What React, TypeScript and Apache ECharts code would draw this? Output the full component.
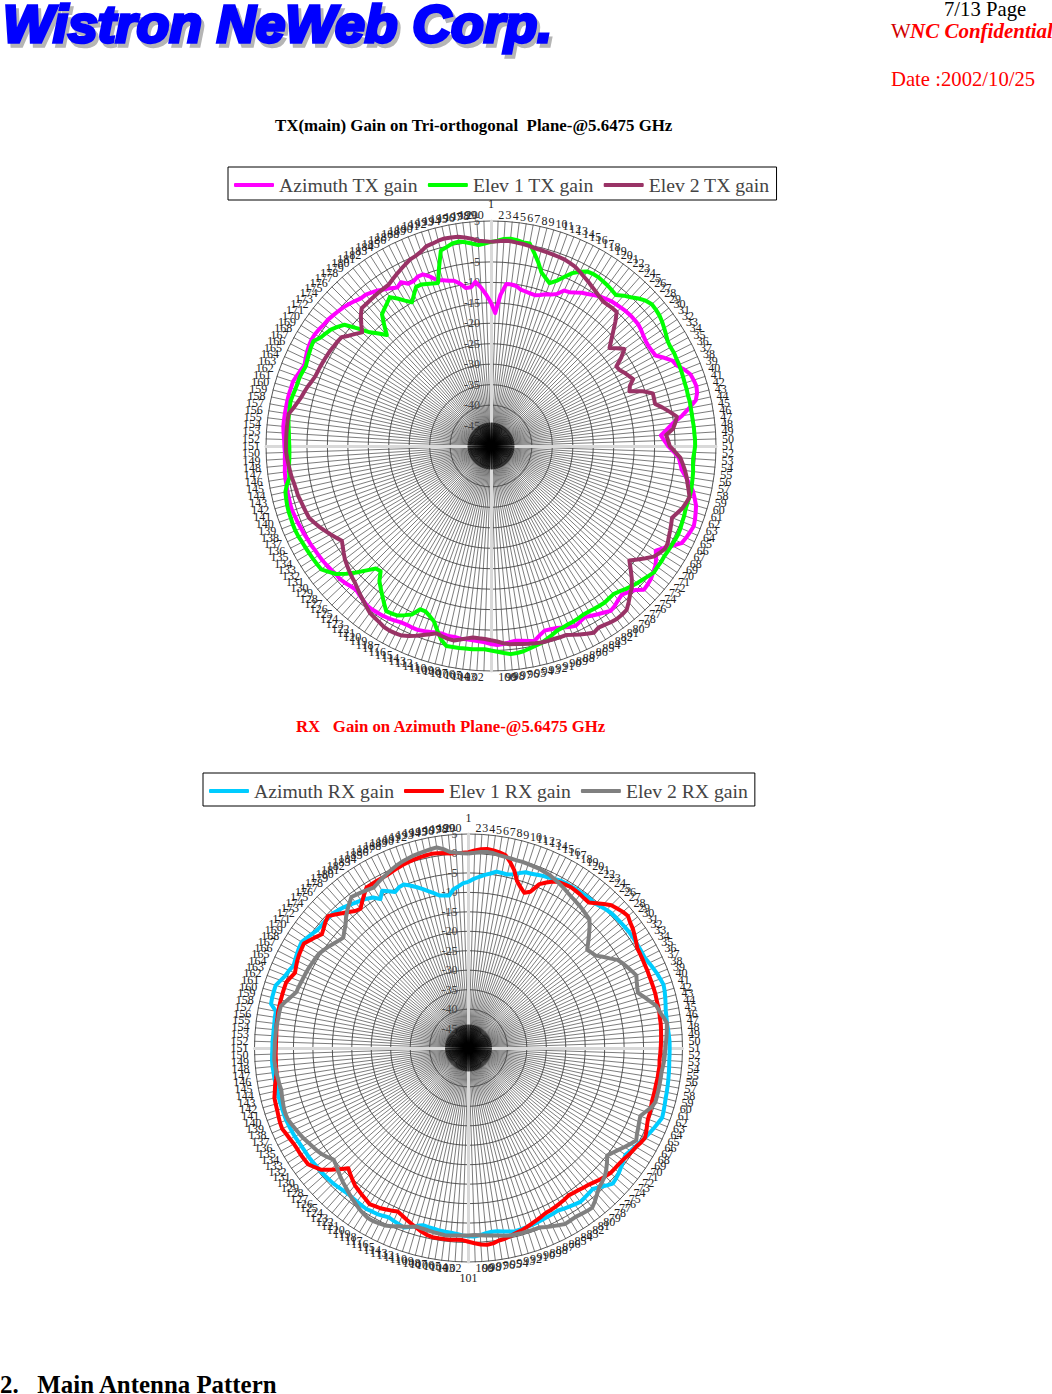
import React, { useEffect, useRef } from "react";
import * as echarts from "echarts";

const azimuthTx = [
  -15, -17.5, -13, -10.2, -10.2, -10.4, -11.1, -11.3, -11.5, -11.6,
  -11.2, -10.6, -10.2, -9.5, -8, -7.8, -7.2, -6.5, -6, -5.4,
  -4.8, -4.4, -4, -3.8, -3.6, -3.4, -3.3, -3.3, -3.3, -3.6,
  -4, -4.3, -4.4, -4.3, -4.1, -2.5, -1, -0.5, 0.8, 1.8,
  2.1, 2.3, 2, 1.3, -0.7, -2.7, -5.1, -6.8, -8.4, -7.6,
  -6.7, -5.3, -4, -3.5, -3, -1.8, -0.6, 0.6, 1.4, 2.2,
  2.6, 3, 3.3, 3, 2.7, 2.3, 0.6, -1, -2.3, -1.2,
  -0.3, 0.2, 0.8, 1.1, 1.3, -0.2, -1, -1.6, -1.2, -0.6,
  -0.2, -0.8, -1.3, -1.8, -2.3, -1.9, -1.4, -1.8, -2.3, -2.7,
  -2.9, -3, -2.2, -1.2, -1.5, -1.8, -2, -1.8, -1.5, -1.3,
  -1.6, -2, -2.2, -2.3, -2.4, -2.3, -2.5, -2.4, -2.6, -2.5,
  -2.2, -1.9, -1.6, -1.6, -1.7, -1.6, -1.3, -1, -0.8, -0.7,
  -0.6, -0.6, -1, -1.4, -1.8, -1.5, -1.1, -0.8, -0.8, -0.6,
  -0.4, -0.2, -0.1, 0, 0.2, 0.3, 0.5, 0.6, 0.8, 0.9,
  1.1, 1.1, 1, 1, 0.9, 0.9, 0.8, 0.6, 0.5, 0.4,
  0.5, 0.6, 0.8, 1, 1, 1, 1, 1, 1, 0.9,
  0.9, 0.5, 0.1, -0.3, 0.1, 0.5, 0.8, 1, 1, 0.8,
  0.5, 0.4, 0.1, -0.2, -0.5, -0.9, -1.4, -1.9, -2, -2.5,
  -3, -3.7, -4.3, -5, -4.3, -5.5, -5.5, -4.9, -4.9, -6,
  -7.4, -7.8, -8.3, -8.6, -9.6, -10.9, -10.9, -9.7, -11.2, -13,
];
const elev1Tx = [
  -0.1, 0.2, 0.7, 0.9, 0.7, 0.4, 0.4, -1.6, -3.6, -5.8,
  -6.8, -7.7, -6.6, -5, -3.3, -2.2, -1.3, -1.1, -1.1, -1.3,
  -1.5, -1.8, -2.1, -1, -0.1, 1, 1.9, 2.4, 2.3, 2.1,
  1.7, 1.2, 0.7, 0.2, 0.1, 0.2, 0.1, 0.1, 0, -0.1,
  -0.2, -0.2, -0.3, -0.2, -0.3, -0.3, -0.3, -0.2, -0.2, -0.1,
  -0.1, -0.3, -0.5, -0.4, -0.2, -0.1, 0, 0.1, 0.1, 0,
  0, 0.2, 0.3, 0.5, 0.6, 0.5, 0.4, 0.3, 0.2, 0.3,
  0.3, 0.4, -0.1, -0.6, -1, -1.5, -2, -2.6, -3, -2.9,
  -2.7, -2.8, -2.9, -3, -3, -2.8, -2.6, -2.5, -2.3, -2.1,
  -1.5, -0.9, -0.3, 0, 0.4, 0.8, 1, 1.1, 0.7, 0.3,
  0, -0.3, -0.2, -0.1, -0.1, 0, 0, 0.1, -1.1, -3,
  -4.9, -5.8, -6.5, -6.5, -4.5, -3.6, -2.7, -2.4, -2.2, -3.5,
  -4.8, -6, -7.2, -9.2, -8.9, -7, -4.8, -2.8, -0.9, 0.2,
  1.3, 1.4, 1.5, 1.6, 1.7, 1.8, 2, 2.1, 2.1, 2,
  2, 1.9, 1.7, 1.5, 0.8, -0.1, -0.3, -0.4, -0.6, -0.7,
  -0.7, -0.6, -0.5, -0.3, -0.1, 0, 0.1, 0.2, 0, -0.2,
  -0.3, -0.3, -0.5, -0.7, -0.4, -0.1, 0.2, 0.4, -0.6, -1.1,
  -1.6, -2.5, -3.5, -6.5, -9.4, -11.1, -12.8, -10.5, -8.2, -7.5,
  -6.8, -6, -7.3, -8.7, -9.9, -8.5, -7, -7, -7.4, -7.8,
  -8.1, -4.5, -0.7, -0.2, 0.4, 0.6, 0.2, -0.3, -0.8, -0.5,
];
const elev2Tx = [
  -0.1, 0.1, 0.3, 0.3, 0.1, 0, -0.2, -0.5, -0.6, -0.7,
  -0.8, -0.9, -1, -1.3, -1.6, -2.2, -2.8, -3.3, -3.9, -4.4,
  -4.9, -5.3, -5.2, -5.1, -5.1, -7, -9, -10.8, -12.4, -11,
  -9.7, -11.5, -13.7, -13.5, -12.8, -12.2, -11.6, -13, -13.6, -10.5,
  -8.4, -8.5, -8.6, -7, -5.5, -4, -4.6, -5.3, -7.1, -6.7,
  -6.3, -5, -3.6, -2.9, -2.2, -1.6, -1.1, -0.5, 0.1, -0.3,
  -0.8, -1.6, -2.4, -2, -1.6, -1.2, -0.7, -0.6, -1.2, -1.9,
  -3.3, -4.7, -6.1, -4.5, -2.8, -1.3, -0.3, 0.9, 2, 2.2,
  2.3, 2.1, 1.8, 1.6, 2.1, 1.5, 0.9, 0.3, -0.3, -0.3,
  -0.4, -0.4, -0.4, -0.6, -0.8, -1, -1.2, -1.3, -1.7, -2.2,
  -2.5, -2.8, -2.9, -3, -2.6, -2.1, -1.6, -1.7, -2, -2.3,
  -1.6, -0.9, -0.1, 0.6, 1.2, 1.4, 1.5, 1.4, 1, 0.7,
  0.4, -0.3, -1, -1.6, -2.3, -2.9, -3.3, -3.8, -4.3, -4.8,
  -5.5, -6.2, -6.8, -6, -5.2, -4.4, -3.6, -2.9, -2.2, -2,
  -1.8, -1.6, -1.3, -1.2, -1, -0.7, -0.5, -0.3, -0.1, 0.1,
  0.1, 0.1, 0.1, 0.1, 0.1, 0.1, -0.8, -1.5, -2.1, -2.5,
  -2.9, -3.4, -3.8, -3.9, -4, -4.1, -4.2, -4.3, -4.5, -4.6,
  -4.8, -6, -7, -8, -6.5, -5, -3.8, -3.8, -3.7, -3.6,
  -3.5, -3.4, -3.3, -2.7, -2.1, -1.5, -0.9, -0.3, 0, 0.5,
  1.3, 1.5, 1.8, 2, 1.9, 1.8, 1.4, 0.9, 0.3, 0.1,
];
const azimuthRx = [
  -7.3, -6.5, -5.9, -5.3, -4.8, -4.1, -4.2, -4.3, -3.9, -3.2,
  -2.5, -2.4, -2.1, -1.8, -1.6, -1.2, -0.9, -0.8, -0.8, -0.7,
  -0.7, -0.6, -0.6, -0.6, -0.2, 0.2, 0.5, 0.6, 0.7, 0.8,
  0.9, 0.9, 0.9, 0.9, 0.9, 0.9, 1.3, 1.7, 2.1, 2.4,
  2.7, 2.5, 2.2, 1.9, 1.6, 1.5, 1.4, 1.5, 1.6, 1.7,
  1.7, 1.7, 1.7, 1.8, 1.9, 2, 2.1, 2.2, 2.3, 2.5,
  2.7, 2.9, 2.4, 1.9, 1.4, 0.9, 0.3, -0.2, -0.7, -1.2,
  -0.8, -0.3, 0.2, 0.6, 0.9, 0, -0.9, -1.7, -1.5, -1.3,
  -1.1, -1.4, -1.7, -2, -2.3, -2.2, -2.1, -2, -1.8, -1.7,
  -1.6, -1.5, -1.4, -1.7, -2, -2.3, -2.4, -2.2, -1.8, -1.5,
  -1.6, -1.8, -2.1, -2.3, -2.4, -2.5, -2.7, -2.8, -3, -2.4,
  -1.6, -1, -1.3, -1.6, -1.9, -1.6, -1.3, -1.2, -1, -1.1,
  -1.2, -1.3, -1.4, -1.2, -1, -0.8, -0.7, -0.6, -0.5, -0.5,
  -0.4, -0.3, -0.3, -0.2, -0.1, 0.1, 0.2, 0.3, 0.4, 0.4,
  0.4, 0.4, 0.4, 0.4, 0.4, 0.5, 0.5, 0.6, 0.6, 0.5,
  0.4, 0.4, 0.3, 0.3, 0.3, 0.4, 0.4, 2, 2.1, 2.1,
  2.1, 1.3, 0.6, 0.2, -0.3, 0, 0.3, 0.6, 0.8, 0.3,
  -0.2, -0.7, -0.8, -0.8, -0.9, -0.9, -1.3, -1.7, -2.2, -2.7,
  -3.1, -3.6, -4.2, -5.5, -3.9, -4.8, -5.7, -5, -4.8, -5.6,
  -6.5, -7.4, -8.4, -9.2, -10.1, -10.3, -10.5, -9, -8.4, -7.6,
];
const elev1Rx = [
  0.3, 0.8, 1.2, 1.4, 1.2, 0.9, 0.5, -1, -2.8, -5.3,
  -6.6, -7.6, -6.8, -4.1, -3, -2, -1.4, -1.2, -1, -1.1,
  -1.2, -1.4, -1.5, -0.4, 0.8, 1.9, 2.4, 2.9, 3.2, 2.6,
  2.2, 1.6, 1, 0.4, 0.3, 0.2, 0.1, 0.1, 0, 0,
  0, 0, -0.1, -0.1, -0.1, -0.2, -0.2, -0.3, -0.4, -0.5,
  -0.6, -0.7, -0.8, -0.7, -0.8, -0.8, -0.9, -0.9, -0.9, -0.9,
  -0.7, -0.5, -0.4, 0, 0.5, 0.9, 0.5, 0, -0.3, -0.6,
  -1, -1.2, -1.3, -1.4, -1.8, -2.2, -2.7, -3.2, -3.5, -3.8,
  -4, -4.2, -3.9, -3.7, -3.5, -3.3, -3.2, -2.8, -2.4, -2,
  -1.6, -1.2, -0.9, -0.5, -0.1, 0.1, 0.6, 0.8, 0.6, 0.2,
  -0.2, -0.6, -0.6, -0.5, -0.5, -0.5, -0.5, -0.8, -1.3, -1.9,
  -2.5, -3.1, -3.7, -4.2, -3.8, -3.4, -3, -2.8, -2.5, -3,
  -3.4, -3.8, -4.2, -4.9, -5.6, -6.3, -4.5, -2.7, -0.9, 0,
  0.9, 1, 1.1, 1.1, 1.2, 1.5, 1.8, 2.2, 2.1, 1.9,
  1.7, 1.6, 1.5, 1, 0.6, 0.1, -0.3, -0.3, -0.4, -0.4,
  -0.5, -0.5, -0.5, -0.4, -0.3, -0.3, -0.2, -0.2, -0.2, -0.2,
  -0.2, -0.2, -0.8, -1.4, -1, -0.6, -0.3, -0.1, 0.1, -0.7,
  -1.5, -2.3, -1.7, -1, -0.5, -1.5, -2.5, -3.4, -4.3, -4.7,
  -3.5, -2.3, -1.1, -1.1, -1, -1, -0.9, -0.6, -0.3, 0,
  0.2, 0.4, 0.6, 0.7, 0.8, 0.7, 0.5, 0.2, 0.2, 0.2,
];
const elev2Rx = [
  0, 0.2, 0.5, 0.6, 0.5, 0.2, 0, -0.1, -0.2, -0.2,
  -0.3, -0.4, -0.5, -0.7, -0.9, -1.3, -1.7, -2.1, -2.6, -3,
  -3.3, -3.6, -3.9, -4.3, -4.6, -6, -7.5, -9, -10.4, -10,
  -9.6, -8.3, -7, -5.5, -4.8, -4.2, -3.6, -3, -3.5, -3.9,
  -4.2, -3, -1.8, -0.5, 0, 0.7, 1.4, 1.2, 1, 0.8,
  0.6, 0.5, 0.4, 0.2, 0, 0, 0, 0, 0, 0,
  -0.6, -1.6, -2.5, -2.2, -1.8, -1.4, -0.8, -1.6, -2.5, -3.4,
  -4.2, -4.9, -3.8, -2.8, -1.9, -1.4, -0.9, 0, 1, 1.9,
  1.8, 1.6, 1.4, 1.5, 1.6, 1.1, 0.6, 0.1, -0.4, -0.4,
  -0.5, -0.5, -0.6, -0.6, -0.9, -1.2, -1.4, -1.6, -1.8, -1.9,
  -1.8, -1.8, -1.7, -1.6, -1.5, -1.7, -1.8, -2, -2.1, -2.2,
  -1.7, -1.2, -0.7, -0.1, 0.4, 0.6, 0.8, 0.8, 0.4, 0,
  -0.6, -1.1, -1.7, -2.3, -2.8, -3.4, -4, -4.6, -5, -4.2,
  -3.5, -3, -2.6, -2.2, -1.7, -1.3, -0.9, -0.5, -0.1, 0,
  -0.1, -0.3, -0.5, -0.7, -0.5, -0.4, -0.2, -0.1, 0, -0.1,
  -0.2, -0.2, -0.3, -0.3, -0.4, -0.5, -0.5, -0.6, -1.6, -2.6,
  -3.5, -3.6, -3.8, -3.9, -4, -4.1, -4.3, -4.4, -4.6, -5.1,
  -5.6, -6.2, -6.7, -7.1, -6.2, -5.3, -4, -2.9, -1.9, -0.9,
  -1.2, -1.5, -1.8, -2.1, -1.6, -1.1, -0.6, -0.1, 0.4, 0.8,
  1.1, 1.4, 1.6, 1.8, 2, 2.2, 1.5, 0.6, 0.3, 0.1,
];

const spokeLabels = azimuthTx.map((_, i) => String(i + 1));
const AXIS_MIN = -50;
const AXIS_MAX = 5;
const SERIF = "'Liberation Serif', 'Times New Roman', serif";

// ECharts lays radar indicators out counter-clockwise; the source runs clockwise.
const clockwiseOrder = spokeLabels.map((_, i) => (i === 0 ? 0 : spokeLabels.length - i));
const inOrder = <T,>(a: T[]) => clockwiseOrder.map((i) => a[i]);

function spokeRadar(center: number[], radius: number, hidden: string[], poleGap: number) {
  const indicator = inOrder(spokeLabels).map((name, i) => ({
    name: hidden.includes(name) ? "" : name,
    min: AXIS_MIN,
    max: AXIS_MAX,
    ...(name === "1" || name === "101" ? { nameGap: poleGap } : {}),
    ...(i === 0
      ? { axisLabel: { show: true, color: "#444", fontSize: 12, fontFamily: SERIF, margin: 11 } }
      : {}),
  }));
  return {
    center,
    radius,
    shape: "circle",
    splitNumber: 11,
    nameGap: 6,
    axisName: { color: "#222", fontSize: 12, fontFamily: SERIF },
    indicator,
    axisLine: { lineStyle: { color: "#444", width: 0.7 } },
    splitLine: { lineStyle: { color: "#444", width: 0.9 } },
    splitArea: { show: false },
    axisTick: { show: false },
    z: 0,
  };
}
function paleRadar(center: number[], radius: number) {
  return {
    center,
    radius,
    shape: "circle",
    splitNumber: 1,
    axisName: { show: false },
    indicator: ["", "", "", ""].map((name) => ({ name, min: AXIS_MIN, max: AXIS_MAX })),
    axisLine: { lineStyle: { color: "#d9d9d9", width: 3 } },
    splitLine: { show: false },
    splitArea: { show: false },
    z: 1,
  };
}
function hubRadar(center: number[]) {
  return {
    center,
    radius: 23,
    shape: "circle",
    splitNumber: 1,
    axisName: { show: false },
    indicator: spokeLabels.map(() => ({ name: "", min: AXIS_MIN, max: AXIS_MAX })),
    axisLine: { lineStyle: { color: "#000", width: 0.6 } },
    splitLine: { show: false },
    splitArea: { show: false },
    z: 2,
  };
}
const line = (name: string, radarIndex: number, color: string, values: number[]) => ({
  type: "radar",
  name,
  radarIndex,
  symbol: "none",
  z: 3,
  lineStyle: { color, width: 4, join: "round" },
  itemStyle: { color },
  data: [{ name, value: inOrder(values) }],
});
const legendBox = (names: string[], left: number, top: number, itemGap: number) => ({
  data: names,
  left,
  top,
  orient: "horizontal",
  icon: "roundRect",
  itemWidth: 40,
  itemHeight: 4,
  itemGap,
  padding: [8, 7, 5, 6],
  borderColor: "#000",
  borderWidth: 1,
  backgroundColor: "#fff",
  selectedMode: false,
  textStyle: { fontFamily: SERIF, fontSize: 19.7, color: "#444", padding: [1, 0, 0, 0] },
});
const text = (x: number, y: number, t: string, style: object, extra: object = {}) => ({
  type: "text",
  x,
  y,
  z: 10,
  style: { text: t, fontFamily: SERIF, textVerticalAlign: "middle", ...style },
  ...extra,
});

export default function App() {
  const ref = useRef<HTMLDivElement>(null);
  useEffect(() => {
    const chart = echarts.init(ref.current!, undefined, { renderer: "svg" });
    const logoStyle = {
      fontFamily: "'Liberation Sans', Arial, sans-serif",
      fontWeight: "bold",
      fontStyle: "italic",
      fontSize: 47,
    };
    chart.setOption({
      animation: false,
      backgroundColor: "#fff",
      legend: [
        legendBox(["Azimuth TX gain", "Elev 1 TX gain", "Elev 2 TX gain"], 228, 167, 10),
        legendBox(["Azimuth RX gain", "Elev 1 RX gain", "Elev 2 RX gain"], 203, 773, 10),
      ],
      radar: [
        spokeRadar([491, 446], 225, ["101"], 11),
        spokeRadar([468.5, 1048], 214, [], 10),
        paleRadar([491, 446], 225),
        paleRadar([468.5, 1048], 214),
        hubRadar([491, 446]),
        hubRadar([468.5, 1048]),
      ],
      series: [
        line("Azimuth TX gain", 0, "#FF00FF", azimuthTx),
        line("Elev 1 TX gain", 0, "#00FF00", elev1Tx),
        line("Elev 2 TX gain", 0, "#993366", elev2Tx),
        line("Azimuth RX gain", 1, "#00CCFF", azimuthRx),
        line("Elev 1 RX gain", 1, "#FF0000", elev1Rx),
        line("Elev 2 RX gain", 1, "#808080", elev2Rx),
      ],
      graphic: [
        text(6, 28, "Wistron NeWeb Corp.", { ...logoStyle, fill: "#b5b5b5", stroke: "#b5b5b5", lineWidth: 3 }, { scaleX: 1.14, scaleY: 1.12 }),
        text(3, 24, "Wistron NeWeb Corp.", { ...logoStyle, fill: "#0000ff", stroke: "#0000ff", lineWidth: 3 }, { scaleX: 1.14, scaleY: 1.12 }),
        text(944, 9, "7/13 Page", { fontSize: 20.7, fill: "#000" }),
        text(891, 31, "W", { fontSize: 21, fill: "#d00000" }),
        text(910, 31, "NC Confidential", { fontSize: 21, fontWeight: "bold", fontStyle: "italic", fill: "#ff0000" }),
        text(891, 79, "Date :2002/10/25", { fontSize: 20.7, fill: "#ff0000" }),
        text(275, 125, "TX(main) Gain on Tri-orthogonal  Plane-@5.6475 GHz", { fontSize: 16.85, fontWeight: "bold", fill: "#000" }),
        text(296, 726, "RX   Gain on Azimuth Plane-@5.6475 GHz", { fontSize: 16.8, fontWeight: "bold", fill: "#ff0000" }),
        text(0, 1384, "2.   Main Antenna Pattern", { fontSize: 24.9, fontWeight: "bold", fill: "#000" }),
      ],
    });
    return () => chart.dispose();
  }, []);
  return (
    <div
      ref={ref}
      style={{ position: "absolute", left: 0, top: 0, width: 1052, height: 1394 }}
    />
  );
}
